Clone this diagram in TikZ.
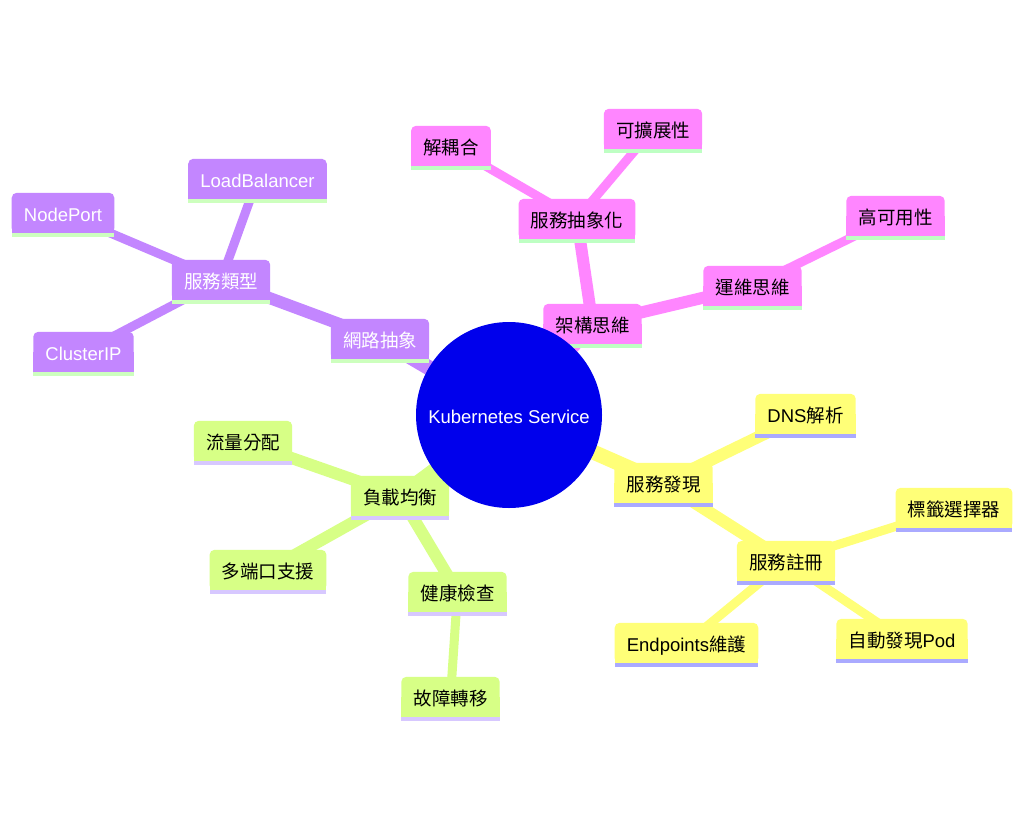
\documentclass[tikz,border=0pt]{standalone}
\usepackage{fontspec}
\setmainfont{Liberation Sans}
\newfontfamily\cjk{Noto Sans CJK TC}
\usetikzlibrary{calc}
\pgfdeclarelayer{back}
\pgfdeclarelayer{edges}
\pgfdeclarelayer{boxes}
\pgfsetlayers{back,edges,boxes,main}
\definecolor{rootblue}{RGB}{0,0,236}
\definecolor{cpurple}{RGB}{195,134,255}
\definecolor{upurple}{RGB}{205,255,190}
\definecolor{cpink}{RGB}{255,134,255}
\definecolor{upink}{RGB}{190,255,195}
\definecolor{cgreen}{RGB}{215,255,134}
\definecolor{ugreen}{RGB}{215,200,255}
\definecolor{cyellow}{RGB}{255,255,120}
\definecolor{uyellow}{RGB}{170,170,255}
\tikzset{
  mm/.style={inner xsep=12pt, inner ysep=0pt, minimum height=40pt,
    text height=19pt, text depth=3pt,
    font=\fontsize{18.5}{20}\selectfont},
  rootnode/.style={circle, fill=rootblue, minimum size=186pt, inner sep=0pt,
    text height=17pt, text depth=0pt,
    text=white, font=\fontsize{18.5}{20}\selectfont},
  eone/.style={line width=15pt},
  etwo/.style={line width=12pt},
  ethree/.style={line width=9pt},
}
\newcommand\mmbox[3]{%
  \fill[#2, rounded corners=5pt] (#1.south west) rectangle (#1.north east);
  \fill[#2] (#1.south west) rectangle (#1.east);
  \fill[#3] (#1.south west) rectangle ($(#1.south east)+(0,-4pt)$);
}
\begin{document}
\begin{tikzpicture}[x=1pt,y=-1pt]
\useasboundingbox (0,0) rectangle (1024,828);
\begin{pgfonlayer}{back}
\fill[white] (0,0) rectangle (1024,828);
\end{pgfonlayer}

\node[rootnode] (root) at (509,415) {Kubernetes Service};

% purple
\node[mm,text=white] (net) at (380,339) {\cjk 網路抽象};
\node[mm,text=white] (type) at (221,280) {\cjk 服務類型};
\node[mm,text=white] (lb) at (257.5,179) {LoadBalancer};
\node[mm,text=white] (np) at (63,213) {NodePort};
\node[mm,text=white] (cip) at (83.5,352) {ClusterIP};
% pink
\node[mm] (arch) at (592.5,324) {\cjk 架構思維};
\node[mm] (abs) at (577,219) {\cjk 服務抽象化};
\node[mm] (dec) at (451,146) {\cjk 解耦合};
\node[mm] (scal) at (653,129) {\cjk 可擴展性};
\node[mm] (ops) at (752.5,286) {\cjk 運維思維};
\node[mm] (ha) at (895.5,216) {\cjk 高可用性};
% green
\node[mm] (lbal) at (400,496) {\cjk 負載均衡};
\node[mm] (flow) at (243,441) {\cjk 流量分配};
\node[mm] (multi) at (268,570) {\cjk 多端口支援};
\node[mm] (health) at (457.5,592) {\cjk 健康檢查};
\node[mm] (fail) at (450.5,697) {\cjk 故障轉移};
% yellow
\node[mm] (disc) at (663.5,483) {\cjk 服務發現};
\node[mm] (dns) at (805.5,414) {DNS{\cjk 解析}};
\node[mm] (reg) at (786,561) {\cjk 服務註冊};
\node[mm] (label) at (954,508) {\cjk 標籤選擇器};
\node[mm] (ep) at (686.5,643) {Endpoints{\cjk 維護}};
\node[mm] (auto) at (902,639) {{\cjk 自動發現}Pod};

\begin{pgfonlayer}{boxes}
\foreach \n in {net,type,lb,np,cip} {\mmbox{\n}{cpurple}{upurple}}
\foreach \n in {arch,abs,dec,scal,ops,ha} {\mmbox{\n}{cpink}{upink}}
\foreach \n in {lbal,flow,multi,health,fail} {\mmbox{\n}{cgreen}{ugreen}}
\foreach \n in {disc,dns,reg,label,ep,auto} {\mmbox{\n}{cyellow}{uyellow}}
\end{pgfonlayer}

\begin{pgfonlayer}{edges}
\draw[eone,cpurple] (root.center) -- (net.center);
\draw[etwo,cpurple] (net.center) -- (type.center);
\draw[ethree,cpurple] (type.center) -- (lb.center);
\draw[ethree,cpurple] (type.center) -- (np.center);
\draw[ethree,cpurple] (type.center) -- (cip.center);

\draw[eone,cpink] (root.center) -- (arch.center);
\draw[etwo,cpink] (arch.center) -- (abs.center);
\draw[etwo,cpink] (arch.center) -- (ops.center);
\draw[ethree,cpink] (abs.center) -- (dec.center);
\draw[ethree,cpink] (abs.center) -- (scal.center);
\draw[ethree,cpink] (ops.center) -- (ha.center);

\draw[eone,cgreen] (root.center) -- (lbal.center);
\draw[etwo,cgreen] (lbal.center) -- (flow.center);
\draw[etwo,cgreen] (lbal.center) -- (multi.center);
\draw[etwo,cgreen] (lbal.center) -- (health.center);
\draw[ethree,cgreen] (health.center) -- (fail.center);

\draw[eone,cyellow] (root.center) -- (disc.center);
\draw[etwo,cyellow] (disc.center) -- (dns.center);
\draw[etwo,cyellow] (disc.center) -- (reg.center);
\draw[ethree,cyellow] (reg.center) -- (label.center);
\draw[ethree,cyellow] (reg.center) -- (ep.center);
\draw[ethree,cyellow] (reg.center) -- (auto.center);
\end{pgfonlayer}
\end{tikzpicture}
\end{document}
